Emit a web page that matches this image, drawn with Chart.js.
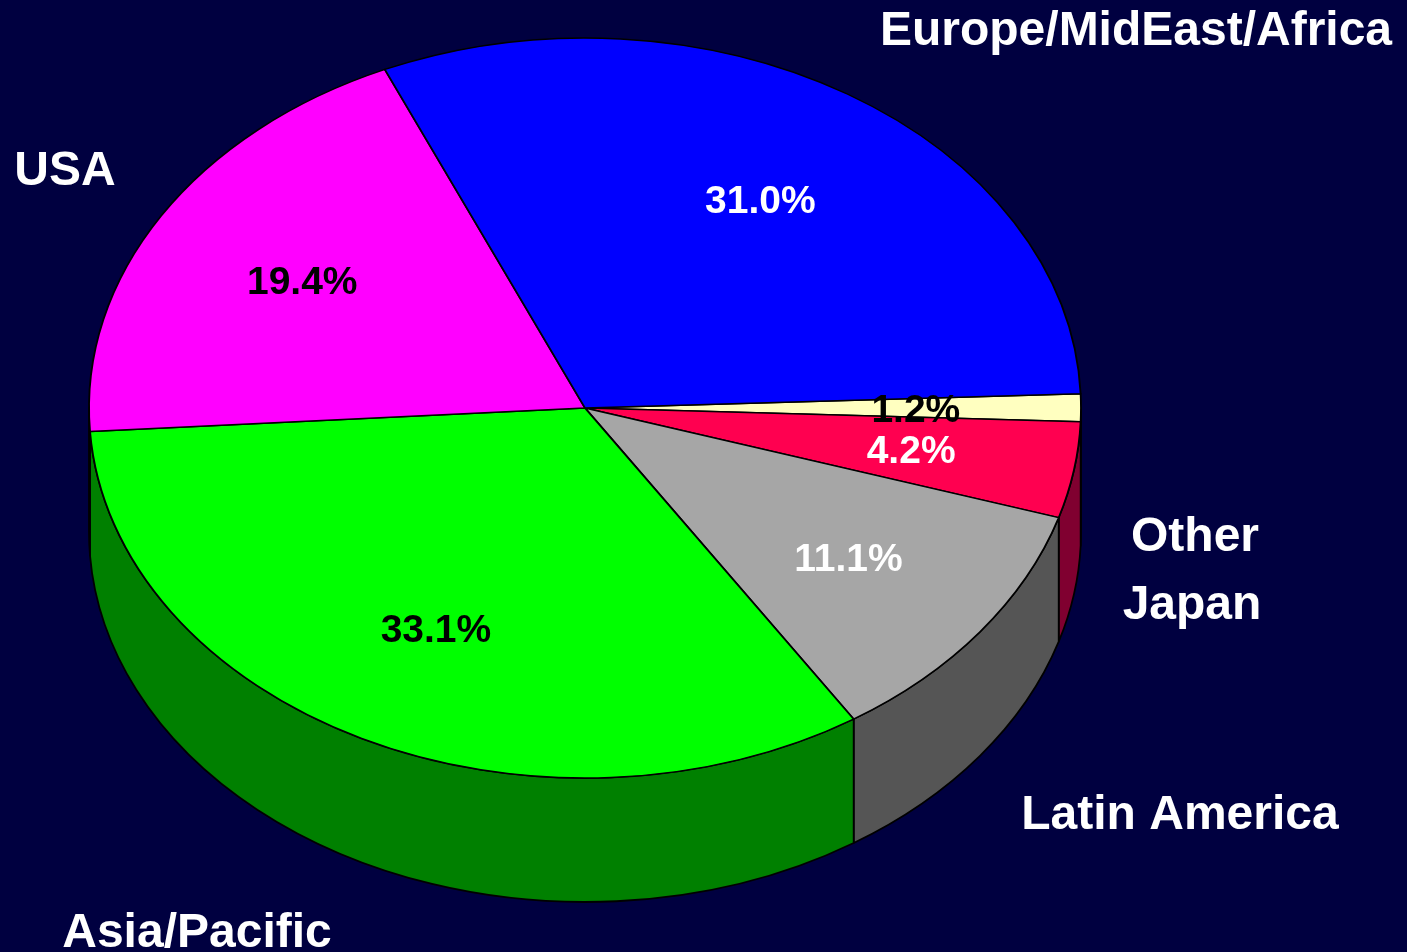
<!DOCTYPE html>
<html>
<head>
<meta charset="utf-8">
<script src="https://cdn.jsdelivr.net/npm/chart.js@4/dist/chart.umd.min.js"></script>
<style>
  html, body { margin: 0; padding: 0; background: #000040; }
  canvas { display: block; }
</style>
</head>
<body>
<canvas id="pie" width="1407" height="952"></canvas>
<script>
// data, clockwise from 3 o'clock
const regions = ['Other', 'Japan', 'Latin America', 'Asia/Pacific', 'USA', 'Europe/MidEast/Africa'];
const shares = [1.2, 4.2, 11.1, 33.1, 19.4, 31.0];
const topColors = ['#FFFFC0', '#FF0050', '#A6A6A6', '#00FF00', '#FF00FF', '#0000FF'];
const sideColors = ['#808060', '#800030', '#555555', '#008000', '#800080', '#000080'];
const valueColors = ['#000000', '#FFFFFF', '#FFFFFF', '#000000', '#000000', '#FFFFFF'];

// layout of the tilted pie (screen px)
const CX = 585, CY = 408, RX = 496, RY = 370, DEPTH = 124;
// where the region names sit (center x, baseline y)
const nameSpots = [[1195, 551], [1192, 619], [1180, 829], [197, 947], [65, 185], [1136, 45]];

const FONT = '"Liberation Sans", Arial, sans-serif';

function visibleParts(s, e) {
  // parts of [s, e] facing the viewer (angles 0..PI, mod 2PI)
  const out = [];
  for (let k = -1; k <= 1; k++) {
    const a = Math.max(s, k * 2 * Math.PI);
    const b = Math.min(e, k * 2 * Math.PI + Math.PI);
    if (b > a) out.push([a, b]);
  }
  return out;
}

const tiltPlugin = {
  id: 'tilt',
  beforeDatasetsDraw(chart) {
    const ctx = chart.ctx;
    const arcs = chart.getDatasetMeta(0).data;
    if (!arcs.length) return;

    // side walls
    ctx.save();
    ctx.lineWidth = 1.8;
    ctx.strokeStyle = '#000000';
    ctx.lineJoin = 'round';
    arcs.forEach((arc, i) => {
      visibleParts(arc.startAngle, arc.endAngle).forEach(([a, b]) => {
        ctx.beginPath();
        ctx.ellipse(CX, CY, RX, RY, 0, a, b, false);
        ctx.ellipse(CX, CY + DEPTH, RX, RY, 0, b, a, true);
        ctx.closePath();
        ctx.fillStyle = sideColors[i];
        ctx.fill();
        ctx.stroke();
      });
    });
    ctx.restore();

    // squash the round pie into the top face
    const a0 = arcs[0];
    ctx.save();
    ctx.translate(CX, CY);
    ctx.scale(RX / a0.outerRadius, RY / a0.outerRadius);
    ctx.translate(-a0.x, -a0.y);
  },
  afterDatasetsDraw(chart) {
    const ctx = chart.ctx;
    const arcs = chart.getDatasetMeta(0).data;
    if (!arcs.length) return;
    ctx.restore();

    ctx.save();
    ctx.textAlign = 'center';
    ctx.textBaseline = 'alphabetic';

    // percentages at 2/3 radius
    ctx.font = 'bold 39px ' + FONT;
    arcs.forEach((arc, i) => {
      const mid = (arc.startAngle + arc.endAngle) / 2;
      const x = CX + Math.cos(mid) * RX * 0.667;
      const y = CY + Math.sin(mid) * RY * 0.667;
      ctx.fillStyle = valueColors[i];
      ctx.fillText(shares[i].toFixed(1) + '%', x, y + 14);
    });

    // region names
    ctx.font = 'bold 48px ' + FONT;
    ctx.fillStyle = '#FFFFFF';
    regions.forEach((name, i) => {
      ctx.fillText(name, nameSpots[i][0], nameSpots[i][1]);
    });
    ctx.restore();
  }
};

new Chart(document.getElementById('pie'), {
  type: 'pie',
  data: {
    labels: regions,
    datasets: [{
      data: shares,
      backgroundColor: topColors,
      borderColor: '#000000',
      borderWidth: 1.8,
      borderJoinStyle: 'round',
      clip: false
    }]
  },
  options: {
    responsive: false,
    animation: false,
    events: [],
    rotation: 87.8,
    plugins: {
      legend: { display: false },
      tooltip: { enabled: false }
    }
  },
  plugins: [tiltPlugin]
});
</script>
</body>
</html>
